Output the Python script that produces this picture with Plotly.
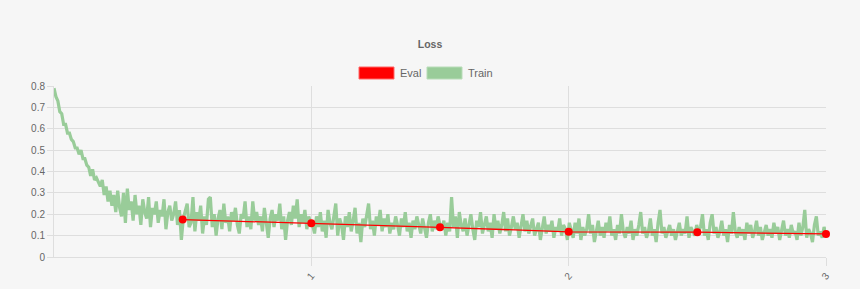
import numpy as np
import plotly.graph_objects as go

# ---- data ----
eval_epochs = [0.5, 1.0, 1.5, 2.0, 2.5, 3.0]
eval_loss = [0.175, 0.158, 0.139, 0.118, 0.116, 0.108]

train_loss = [
    # decay phase
    0.79, 0.75, 0.73, 0.68, 0.67, 0.62, 0.62, 0.58, 0.58, 0.55,
    0.54, 0.51, 0.51, 0.48, 0.50, 0.46, 0.46, 0.43, 0.42, 0.38,
    0.41, 0.36, 0.37, 0.35, 0.33, 0.36, 0.29, 0.33, 0.26, 0.31,
    0.24, 0.29, 0.21, 0.31, 0.23,
    # up to epoch 0.5
    0.19, 0.30, 0.16, 0.32, 0.22, 0.26, 0.17, 0.29, 0.20, 0.24,
    0.15, 0.27, 0.21, 0.18, 0.28, 0.14, 0.23, 0.20, 0.26, 0.16,
    0.22, 0.19, 0.27, 0.13, 0.21, 0.24, 0.17, 0.20, 0.26, 0.15,
    0.22, 0.08, 0.18, 0.21, 0.25, 0.14,
    # epoch 0.5 - 1
    0.16, 0.28, 0.12, 0.21, 0.17, 0.24, 0.11, 0.19, 0.15, 0.27,
    0.28, 0.14, 0.20, 0.10, 0.18, 0.22, 0.13, 0.25, 0.16, 0.19,
    0.12, 0.21, 0.17, 0.23, 0.15, 0.11, 0.20, 0.18, 0.26, 0.14,
    0.19, 0.13, 0.26, 0.17, 0.21, 0.15, 0.19, 0.12, 0.23, 0.16,
    0.09, 0.18, 0.22, 0.14, 0.20, 0.17, 0.25, 0.13, 0.19, 0.08,
    0.17, 0.21, 0.15, 0.24, 0.18, 0.27, 0.14, 0.20, 0.16, 0.22,
    0.13, 0.19, 0.16,
    # epoch 1 - 1.5
    0.15, 0.11, 0.19, 0.14, 0.21, 0.12, 0.17, 0.09, 0.22, 0.16,
    0.13, 0.20, 0.25, 0.10, 0.18, 0.15, 0.08, 0.19, 0.14, 0.21,
    0.12, 0.17, 0.23, 0.11, 0.16, 0.07, 0.18, 0.14, 0.20, 0.25,
    0.13, 0.17, 0.10, 0.19, 0.15, 0.22, 0.12, 0.18, 0.14, 0.20,
    0.11, 0.16, 0.13, 0.19, 0.15, 0.10, 0.18, 0.14, 0.21, 0.12,
    0.16, 0.09, 0.17, 0.13, 0.19, 0.15, 0.11, 0.18, 0.14, 0.09,
    0.16, 0.20, 0.12, 0.17, 0.13, 0.19, 0.15,
    # epoch 1.5 - 2
    0.13, 0.17, 0.10, 0.16, 0.12, 0.28, 0.14, 0.19, 0.09, 0.21,
    0.15, 0.12, 0.18, 0.10, 0.16, 0.20, 0.13, 0.08, 0.17, 0.14,
    0.21, 0.11, 0.15, 0.19, 0.12, 0.16, 0.09, 0.20, 0.13, 0.17,
    0.11, 0.15, 0.21, 0.12, 0.18, 0.10, 0.14, 0.19, 0.13, 0.16,
    0.09, 0.15, 0.20, 0.12, 0.17, 0.11, 0.14, 0.18, 0.10, 0.13,
    0.16, 0.08, 0.14, 0.19, 0.11, 0.15, 0.12, 0.17, 0.09, 0.14,
    0.12, 0.18, 0.10, 0.15, 0.13, 0.08, 0.16,
    # epoch 2 - 2.5
    0.12, 0.09, 0.16, 0.11, 0.18, 0.08, 0.14, 0.10, 0.13, 0.20,
    0.11, 0.15, 0.07, 0.12, 0.17, 0.10, 0.14, 0.09, 0.16, 0.12,
    0.19, 0.10, 0.13, 0.08, 0.15, 0.11, 0.20, 0.12, 0.09, 0.14,
    0.11, 0.17, 0.08, 0.13, 0.10, 0.15, 0.21, 0.11, 0.14, 0.09,
    0.12, 0.18, 0.10, 0.13, 0.07, 0.16, 0.22, 0.11, 0.14, 0.09,
    0.12, 0.15, 0.10, 0.13, 0.08, 0.12, 0.16, 0.10, 0.13, 0.11,
    0.19, 0.09, 0.14, 0.12, 0.10, 0.15, 0.12,
    # epoch 2.5 - 3
    0.14, 0.20, 0.10, 0.13, 0.08, 0.16, 0.20, 0.11, 0.14, 0.09,
    0.12, 0.17, 0.10, 0.13, 0.07, 0.15, 0.11, 0.21, 0.12, 0.09,
    0.14, 0.10, 0.13, 0.08, 0.16, 0.11, 0.15, 0.09, 0.12, 0.17,
    0.10, 0.14, 0.08, 0.12, 0.15, 0.10, 0.13, 0.09, 0.16, 0.11,
    0.14, 0.08, 0.12, 0.17, 0.10, 0.13, 0.09, 0.15, 0.11, 0.12,
    0.08, 0.16, 0.10, 0.14, 0.22, 0.09, 0.13, 0.11, 0.07, 0.15,
    0.19, 0.10, 0.12, 0.09, 0.14, 0.11,
]
train_epochs = np.linspace(0, 3, len(train_loss))

x_tick_vals = [1, 2, 3]
x_tick_text = ["1", "2", "3"]
y_tick_vals = [0, 0.1, 0.2, 0.3, 0.4, 0.5, 0.6, 0.7, 0.8]
y_tick_text = ["0", "0.1", "0.2", "0.3", "0.4", "0.5", "0.6", "0.7", "0.8"]

title_text = "Loss"
series_names = ["Eval", "Train"]

RED = "#ff0000"
GREEN = "#99cc99"
BG = "#f6f6f6"
GRID = "#dedede"
FONT = "Liberation Sans, Arial, sans-serif"
TXT = "#666666"

fig = go.Figure()
fig.add_trace(go.Scatter(
    x=train_epochs, y=train_loss, mode="lines", name=series_names[1],
    line=dict(color=GREEN, width=3.2), showlegend=False, hoverinfo="skip"))
fig.add_trace(go.Scatter(
    x=eval_epochs, y=eval_loss, mode="lines+markers", name=series_names[0],
    line=dict(color=RED, width=1.3), marker=dict(color=RED, size=8),
    showlegend=False, cliponaxis=False))

# plot geometry
L, R, T, B = 54, 34, 86, 32
W, H = 860, 289
pw, ph = W - L - R, H - T - B

def px_x(p):
    return (p - L) / pw

def px_y(p):
    return (H - B - p) / ph

shapes = [
    dict(type="rect", xref="paper", yref="paper",
         x0=px_x(359), x1=px_x(394), y0=px_y(79), y1=px_y(67),
         fillcolor=RED, line=dict(color="#ff6666", width=1)),
    dict(type="rect", xref="paper", yref="paper",
         x0=px_x(427), x1=px_x(462), y0=px_y(79), y1=px_y(67),
         fillcolor=GREEN, line=dict(color="#b8dcb8", width=1)),
]
annotations = [
    dict(text=series_names[0], xref="paper", yref="paper", x=px_x(398), y=px_y(73),
         xanchor="left", yanchor="middle", showarrow=False,
         font=dict(family=FONT, size=11, color=TXT)),
    dict(text=series_names[1], xref="paper", yref="paper", x=px_x(466), y=px_y(73),
         xanchor="left", yanchor="middle", showarrow=False,
         font=dict(family=FONT, size=11, color=TXT)),
]

fig.update_layout(
    width=W, height=H,
    margin=dict(l=L, r=R, t=T, b=B, autoexpand=False),
    paper_bgcolor=BG, plot_bgcolor=BG,
    title=dict(text="<b>" + title_text + "</b>", x=0.5, xref="container", xanchor="center",
               y=1 - 44 / H, yref="container", yanchor="middle",
               font=dict(family=FONT, size=10.5, color=TXT)),
    shapes=shapes, annotations=annotations,
    showlegend=False,
    font=dict(family=FONT, size=10, color=TXT),
)
fig.update_xaxes(
    range=[0, 3], tickvals=x_tick_vals, ticktext=x_tick_text, tickangle=-50,
    automargin=False,
    showgrid=True, gridcolor=GRID, gridwidth=1, zeroline=False,
    showline=True, linecolor=GRID, mirror=False,
    ticks="outside", ticklen=8, tickcolor=GRID,
    tickfont=dict(family=FONT, size=10, color=TXT),
)
fig.update_yaxes(
    range=[0, 0.8], tickvals=y_tick_vals, ticktext=y_tick_text,
    automargin=False,
    showgrid=True, gridcolor=GRID, gridwidth=1,
    zeroline=True, zerolinecolor="#c4c4c4", zerolinewidth=1,
    showline=True, linecolor=GRID,
    ticks="outside", ticklen=6, tickcolor=GRID,
    tickfont=dict(family=FONT, size=10, color=TXT),
)

fig.write_html("out.html")
